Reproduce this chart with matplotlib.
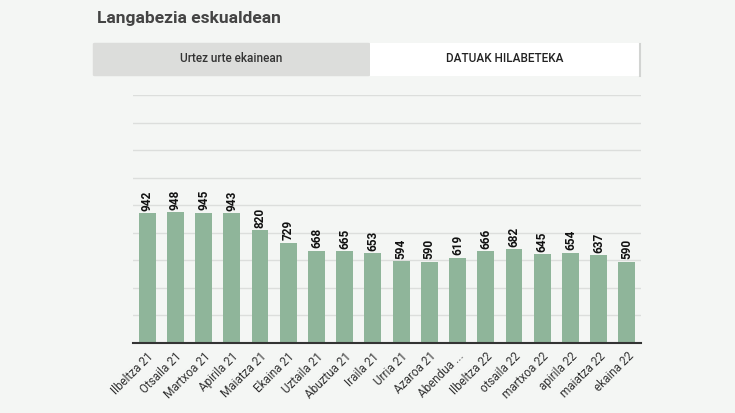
import matplotlib.pyplot as plt
from matplotlib.patches import FancyBboxPatch, Rectangle
import numpy as np

months = ["Ilbeltza 21", "Otsaila 21", "Martxoa 21", "Apirila 21", "Maiatza 21",
          "Ekaina 21", "Uztaila 21", "Abuztua 21", "Iraila 21", "Urria 21",
          "Azaroa 21", "Abendua ...", "Ilbeltza 22", "otsaila 22", "martxoa 22",
          "apirila 22", "maiatza 22", "ekaina 22"]
unemployed = [942, 948, 945, 943, 820, 729, 668, 665, 653, 594,
              590, 619, 666, 682, 645, 654, 637, 590]
tabs = ["Urtez urte ekainean", "DATUAK HILABETEKA"]

W, H = 735, 413
bg = "#f4f6f4"
bar_color = "#8fb59a"

plt.rcParams['font.family'] = ['Roboto', 'DejaVu Sans']
fig = plt.figure(figsize=(W / 100, H / 100), dpi=100, facecolor=bg)

# title
fig.text(97 / W, 1 - 18 / H, "Langabezia eskualdean", fontsize=12.5, fontweight='bold',
         color='#444444', va='center', ha='left')

# tabs
fig.patches.append(FancyBboxPatch((95 / W, 1 - 75 / H), (368 - 95) / W, 31 / H,
                                  boxstyle="round,pad=0.003", transform=fig.transFigure,
                                  facecolor='#dcdddb', edgecolor='none', zorder=0))
fig.patches.append(Rectangle((370 / W, 1 - 76 / H), (640 - 370) / W, 33 / H,
                             transform=fig.transFigure, facecolor='#ffffff',
                             edgecolor='none', zorder=0))
fig.lines.append(plt.Line2D([640 / W, 640 / W], [1 - 76 / H, 1 - 44 / H],
                            transform=fig.transFigure, color='#d2d4d2', linewidth=1.5))
fig.text(231 / W, 1 - 59 / H, tabs[0], fontsize=8.5, fontweight='medium',
         color='#333333', ha='center', va='center')
fig.text(505 / W, 1 - 59 / H, tabs[1], fontsize=8.5, fontweight='medium',
         color='#222222', ha='center', va='center')

# chart
ax = fig.add_axes([133 / W, 1 - 343 / H, (641 - 133) / W, (343 - 95) / H])
ax.set_facecolor(bg)
x = np.arange(len(months))
ax.bar(x, unemployed, width=0.6, color=bar_color, zorder=2)
ax.set_xlim(-0.5, len(months) - 0.5)
ax.set_ylim(0, 1800)
ax.set_yticks(np.arange(0, 1801, 200))
ax.set_yticklabels([])
ax.tick_params(axis='y', length=0)
ax.grid(axis='y', color='#dcdedc', linewidth=1, zorder=0)
for s in ['top', 'right', 'left']:
    ax.spines[s].set_visible(False)
ax.spines['bottom'].set_color('#333333')
ax.spines['bottom'].set_linewidth(1.5)
ax.spines['bottom'].set_zorder(3)

ax.set_xticks(x)
ax.set_xticklabels(months, rotation=45, ha='right', rotation_mode='anchor',
                   fontsize=8.5, color='#333333')
ax.tick_params(axis='x', length=0, pad=5)

for xi, v in zip(x, unemployed):
    ax.text(xi, v + 18, str(v), rotation=90, ha='center', va='bottom',
            fontsize=8.5, fontweight='bold', color='#111111')

fig.savefig("out.png", dpi=100, facecolor=bg)
